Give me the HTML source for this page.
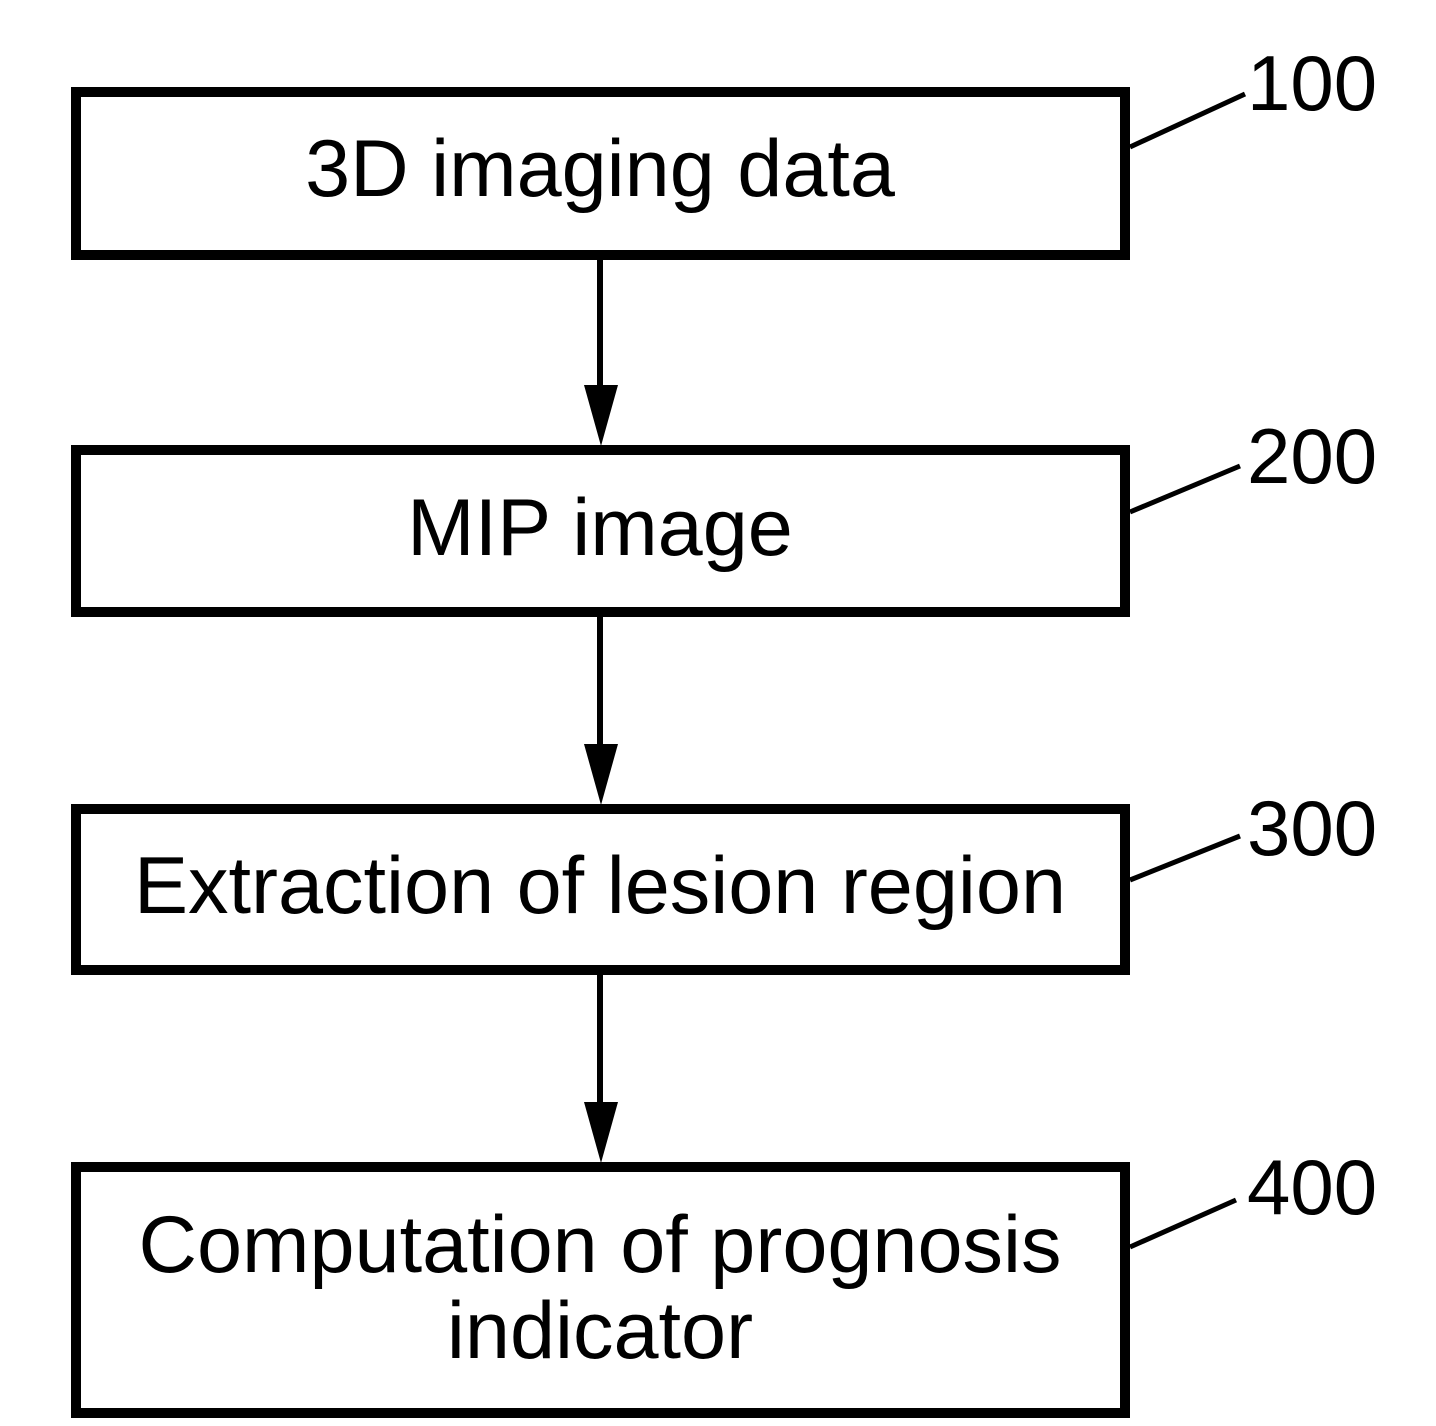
<!DOCTYPE html>
<html><head><meta charset="utf-8"><style>
html,body{margin:0;padding:0;background:#fff;}
svg{display:block;}
text{font-family:"Liberation Sans",Arial,sans-serif;fill:#000;}
</style></head><body>
<svg width="1436" height="1426" viewBox="0 0 1436 1426" xmlns="http://www.w3.org/2000/svg">
<g fill="none" stroke="#000" stroke-width="10">
<rect x="76" y="92" width="1049" height="163"/>
<rect x="76" y="450" width="1049" height="162"/>
<rect x="76" y="809" width="1049" height="161"/>
<rect x="76" y="1167" width="1049" height="246"/>
</g>
<g stroke="#000" stroke-width="6">
<line x1="600" y1="260" x2="600" y2="390"/>
<line x1="600" y1="617" x2="600" y2="750"/>
<line x1="600" y1="975" x2="600" y2="1108"/>
</g>
<g fill="#000">
<polygon points="584,385 618,385 601,446"/>
<polygon points="584,744 618,744 601,805"/>
<polygon points="584,1102 618,1102 601,1163"/>
</g>
<g stroke="#000" stroke-width="5">
<line x1="1130" y1="147" x2="1245" y2="94"/>
<line x1="1130" y1="512" x2="1240" y2="466"/>
<line x1="1130" y1="880" x2="1240" y2="836"/>
<line x1="1130" y1="1247" x2="1236" y2="1200"/>
</g>
<g font-size="81" text-anchor="middle">
<text x="600" y="196">3D imaging data</text>
<text x="600" y="555">MIP image</text>
<text x="600" y="913">Extraction of lesion region</text>
<text x="600" y="1272">Computation of prognosis</text>
<text x="600" y="1358">indicator</text>
</g>
<g font-size="78">
<text x="1247" y="110">100</text>
<text x="1247" y="483">200</text>
<text x="1247" y="855">300</text>
<text x="1247" y="1214">400</text>
</g>
</svg>
</body></html>
